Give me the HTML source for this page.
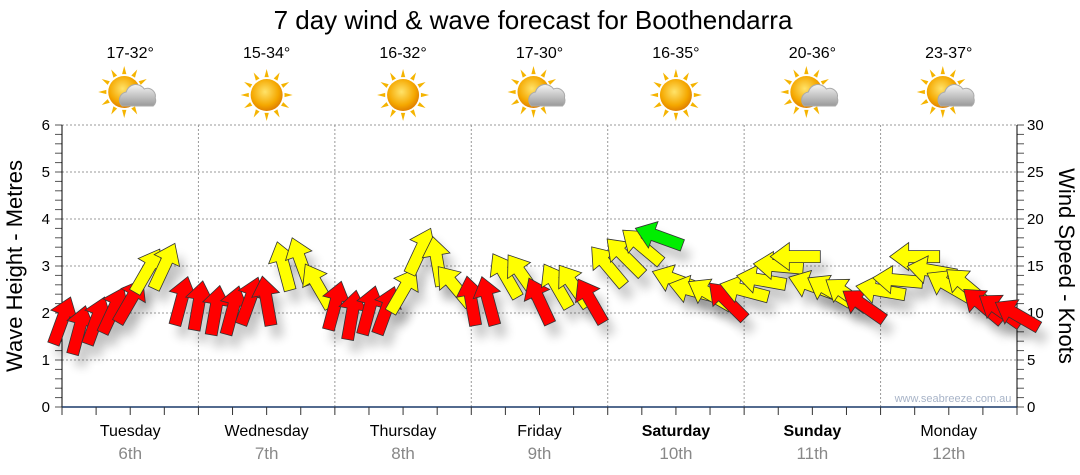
<!DOCTYPE html>
<html><head><meta charset="utf-8">
<style>
body{margin:0;background:#fff;width:1080px;height:475px;overflow:hidden;font-family:"Liberation Sans",sans-serif}
svg{display:block}
</style></head><body>
<svg id="c" width="1080" height="475">
<defs>
<filter id="sh" x="-50%" y="-50%" width="200%" height="200%"><feGaussianBlur stdDeviation="5"/></filter>
<radialGradient id="sun" cx="45%" cy="40%" r="60%"><stop offset="0" stop-color="#ffe36a"/><stop offset="0.7" stop-color="#f5a800"/><stop offset="1" stop-color="#e08000"/></radialGradient>
<linearGradient id="cl" x1="0" y1="0" x2="0" y2="1"><stop offset="0" stop-color="#f4f4f4"/><stop offset="1" stop-color="#9a9a9a"/></linearGradient>
</defs>
<text x="533" y="29" font-size="26" text-anchor="middle" fill="#000">7 day wind &amp; wave forecast for Boothendarra</text>
<g id="grid"></g><g id="icons"></g><g id="axes"></g><g id="shadows"></g><g id="arrows"></g>
<text x="953" y="402" font-size="11" text-anchor="middle" fill="#a8b4c8">www.seabreeze.com.au</text>
<text transform="translate(22,266) rotate(-90)" font-size="22" text-anchor="middle">Wave Height - Metres</text>
<text transform="translate(1059,266) rotate(90)" font-size="22" text-anchor="middle">Wind Speed - Knots</text>
</svg>
<script>
const days=["Tuesday","Wednesday","Thursday","Friday","Saturday","Sunday","Monday"];
const dates=["6th","7th","8th","9th","10th","11th","12th"];
const temps=["17-32°","15-34°","16-32°","17-30°","16-35°","20-36°","23-37°"];
const cloudy=[1,0,0,1,0,1,1];
const waveTicks=[0,1,2,3,4,5,6];
const windTicks=[0,5,10,15,20,25,30];
// wind speed (knots), 3-hourly
const speeds=[9.2,8.2,9.2,10.3,11.3,14.5,15.0,11.3,
10.8,10.3,10.3,11.3,11.3,15.0,15.5,12.9,
10.8,9.8,10.3,10.3,12.4,16.6,15.5,12.9,
11.3,11.3,14.0,14.0,11.3,12.9,12.9,11.3,
15.0,16.0,17.1,18.1,13.5,12.4,12.0,11.3,
12.4,13.5,15.0,16.0,12.9,12.4,12.0,10.8,
12.4,13.5,16.0,14.5,12.9,12.9,10.8,10.3,9.8];
// direction arrow points to (degrees clockwise from up)
const dirs=[20,15,20,25,30,30,25,15,
10,10,15,20,-10,-15,-20,-30,
15,10,15,20,30,25,-10,-40,
-10,-15,-30,-35,-25,-30,-35,-30,
-40,-45,-50,-70,-70,-75,-60,-45,
-75,-80,-85,-90,-70,-60,-55,-55,
-80,-85,-90,-80,-60,-50,-50,-55,-60];
const X0=62,X1=1017,Y0=407,Y1=125;
const ns="http://www.w3.org/2000/svg";
function el(t,a,p){const e=document.createElementNS(ns,t);for(const k in a)e.setAttribute(k,a[k]);if(p)p.appendChild(e);return e;}
const dayW=(X1-X0)/7;
const xT=h=>X0+h/24*dayW;
const yW=m=>Y0-(m/6)*(Y0-Y1);
const yK=k=>Y0-(k/30)*(Y0-Y1);
const grid=document.getElementById('grid'),axes=document.getElementById('axes');
waveTicks.forEach(v=>{if(v>0){const g=el('line',{x1:X0,x2:X1,y1:yW(v),y2:yW(v),stroke:'#999','stroke-dasharray':'2,2'},grid);}
const t=el('text',{x:50,y:yW(v)+5,'font-size':15,'text-anchor':'end'},axes);t.textContent=v;
});
windTicks.forEach(v=>{const t=el('text',{x:1027,y:yK(v)+5,'font-size':15},axes);t.textContent=v;
});
for(let i=0;i<=30;i++){el('line',{x1:55,x2:X0,y1:yW(i*0.2),y2:yW(i*0.2),stroke:'#555'},axes);el('line',{x1:X1,x2:X1+7,y1:yK(i),y2:yK(i),stroke:'#555'},axes);}
el('line',{x1:X0,x2:X0,y1:Y1,y2:Y0,stroke:'#000'},axes);
el('line',{x1:X1,x2:X1,y1:Y1,y2:Y0,stroke:'#000'},axes);
el('line',{x1:X0,x2:X1,y1:Y0,y2:Y0,stroke:'#1a3a6a','stroke-width':1.5},axes);
for(let h=0;h<=168;h+=6)el('line',{x1:xT(h),x2:xT(h),y1:Y0,y2:Y0+8,stroke:'#333'},axes);
const icons=document.getElementById('icons');
days.forEach((d,i)=>{const cx=X0+(i+0.5)*dayW;
if(i>0){const g=el('line',{x1:X0+i*dayW,x2:X0+i*dayW,y1:Y1,y2:Y0,stroke:'#999','stroke-dasharray':'2,2'},grid);}
const bold=(i==4||i==5)?'bold':'normal';
const t=el('text',{x:cx,y:436,'font-size':16,'text-anchor':'middle','font-weight':bold},axes);t.textContent=d;

const t2=el('text',{x:cx,y:459,'font-size':17,'text-anchor':'middle',fill:'#888'},axes);t2.textContent=dates[i];

const t3=el('text',{x:cx,y:58,'font-size':16,'text-anchor':'middle'},icons);t3.textContent=temps[i];

const g=el('g',{},icons);
const sx=cloudy[i]?cx-6:cx,sy=cloudy[i]?92:95;
for(let a=0;a<360;a+=30){const r=a*Math.PI/180;el('polygon',{points:`${sx+Math.sin(r-0.12)*18},${sy-Math.cos(r-0.12)*18} ${sx+Math.sin(r)*26},${sy-Math.cos(r)*26} ${sx+Math.sin(r+0.12)*18},${sy-Math.cos(r+0.12)*18}`,fill:'#f5b400'},g);}
el('circle',{cx:sx,cy:sy,r:16,fill:'url(#sun)'},g);
if(cloudy[i]){el('path',{d:`M${cx-8},${sy+14} a8,8 0 0 1 4,-14 a10,10 0 0 1 18,-3 a8,8 0 0 1 11,9 a7,7 0 0 1 -2,8 z`,fill:'url(#cl)',stroke:'#aaa'},g);}
});
const sh=document.getElementById('shadows'),ar=document.getElementById('arrows');
function arrowPts(){return "0,-25 14,-6 6,-6 6,25 -6,25 -6,-6 -14,-6";}
speeds.forEach((s,i)=>{const x=xT(i*3),y=yK(s),d=dirs[i];
const col=s>=17.5?'#00ee00':(s>=11.5?'#ffff00':'#ff0000');
const p0=el('polygon',{points:arrowPts(),transform:`translate(${x+7},${y+12}) rotate(${d})`,fill:'#000',opacity:0.22,filter:'url(#sh)'},sh);

const p=el('polygon',{points:arrowPts(),transform:`translate(${x},${y}) rotate(${d})`,fill:col,stroke:'#333','stroke-width':0.8},ar);

});
</script>
</body></html>
